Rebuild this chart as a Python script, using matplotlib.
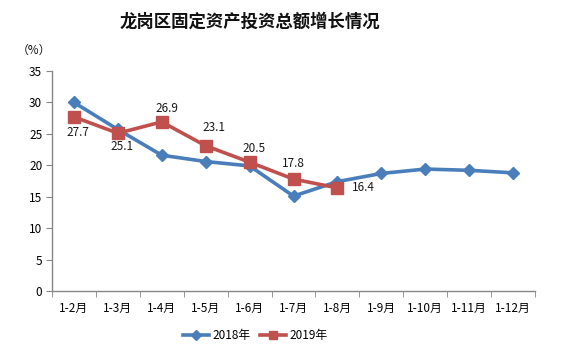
import matplotlib
matplotlib.use("Agg")
import matplotlib.pyplot as plt
import numpy as np

plt.rcParams['font.family'] = ['Noto Sans CJK SC', 'DejaVu Sans']

categories = ["1-2月", "1-3月", "1-4月", "1-5月", "1-6月", "1-7月", "1-8月", "1-9月", "1-10月", "1-11月", "1-12月"]
series_2018 = [30.0, 25.7, 21.6, 20.6, 19.9, 15.1, 17.4, 18.7, 19.4, 19.2, 18.8]
series_2019 = [27.7, 25.1, 26.9, 23.1, 20.5, 17.8, 16.4]
label_2018 = "2018年"
label_2019 = "2019年"
title = "龙岗区固定资产投资总额增长情况"
y_unit = "（%）"
y_ticks = [0, 5, 10, 15, 20, 25, 30, 35]

blue = "#4A7EBB"
red = "#C0504D"
axis_gray = "#868686"

fig = plt.figure(figsize=(5.82, 3.57), dpi=100)
ax = fig.add_axes([52/582, 1-291/357, (535-52)/582, (291-71)/357])

x = np.arange(len(categories))
x19 = np.arange(len(series_2019))
ax.plot(x, series_2018, color=blue, lw=2.6, marker='D', ms=6.5, mfc=blue, mec=blue, label=label_2018, zorder=3)
ax.plot(x19, series_2019, color=red, lw=2.6, marker='s', ms=8, mfc=red, mec=red, label=label_2019, zorder=4)

offsets = [(3, -11.5), (3, -9.5), (4, 9.5), (6, 13), (3, 10), (0, 11.5), (19, 0)]
for xi, v, off in zip(x19, series_2019, offsets):
    ax.annotate(f"{v:.1f}", (xi, v), xytext=off, textcoords='offset points',
                ha='center', va='center', fontsize=8.5, color='#1a1a1a', zorder=5)

ax.set_xlim(-0.5, len(categories) - 0.5)
ax.set_ylim(0, 35)
ax.set_yticks(y_ticks)
ax.set_yticklabels([str(t) for t in y_ticks], fontsize=8.5)
ax.set_xticks(x)
ax.set_xticklabels(categories, fontsize=8.5)
ax.tick_params(axis='x', which='major', length=0, pad=8)
ax.set_xticks(np.arange(-0.5, len(categories)), minor=True)
ax.tick_params(axis='x', which='minor', length=4, color=axis_gray, direction='out')
ax.tick_params(axis='y', length=4, color=axis_gray, direction='out', pad=3)
for s in ['top', 'right']:
    ax.spines[s].set_visible(False)
for s in ['left', 'bottom']:
    ax.spines[s].set_color(axis_gray)
    ax.spines[s].set_linewidth(1)

fig.text(250/582, 1-22/357, title, ha='center', va='center', fontsize=12.5, fontweight='bold', color='#111111')
fig.text(34/582, 1-50/357, y_unit, ha='center', va='center', fontsize=8.5, color='#111111')

fig.legend(loc='center', bbox_to_anchor=(255/582, 1-336/357), ncol=2, frameon=False,
           fontsize=8.5, handlelength=2.2, columnspacing=0.8, handletextpad=0.3, markerscale=0.75)

fig.savefig("out.png", dpi=100, facecolor='white')
